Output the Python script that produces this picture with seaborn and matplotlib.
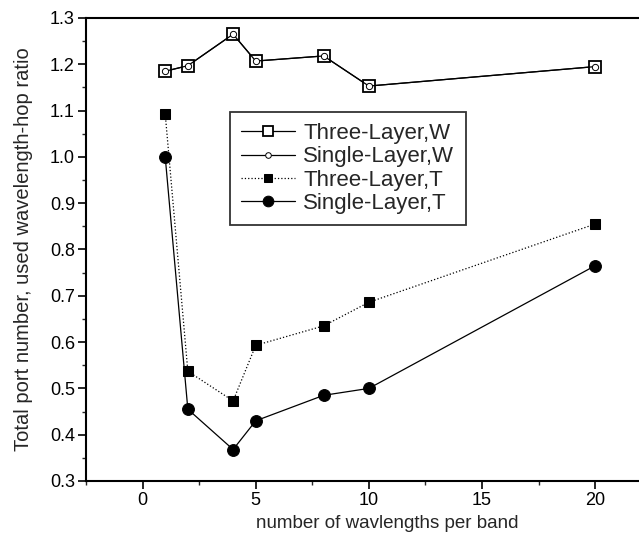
import numpy as np
import pandas as pd
from matplotlib import pyplot as plt
from matplotlib.ticker import MultipleLocator
import seaborn as sns


# wavelengths per band
wavelengths = [1, 2, 4, 5, 8, 10, 20]

# ratios
three_layer_w = [1.185, 1.197, 1.265, 1.207, 1.218, 1.153, 1.195]
single_layer_w = [1.185, 1.197, 1.265, 1.207, 1.218, 1.153, 1.195]
three_layer_t = [1.093, 0.537, 0.473, 0.593, 0.635, 0.686, 0.855]
single_layer_t = [1.000, 0.455, 0.368, 0.430, 0.485, 0.500, 0.765]

labels = ['Three-Layer,W', 'Single-Layer,W', 'Three-Layer,T', 'Single-Layer,T']

sns.set_style('ticks')
plt.rcParams['font.family'] = ['Liberation Sans', 'DejaVu Sans']

fig = plt.figure(figsize=(6.39, 5.37), dpi=100)
# the right end of the axes runs past the edge of the picture
ax = fig.add_axes([0.1346, 0.1043, 0.9420, 0.8622])

"""One call per series so each can keep its own marker and line style"""
sns.lineplot(x=wavelengths, y=three_layer_w, ax=ax, label=labels[0],
             color='black', linestyle='-', linewidth=0.9,
             marker='s', markersize=8.5, markerfacecolor='white',
             markeredgecolor='black', markeredgewidth=1.3)
sns.lineplot(x=wavelengths, y=single_layer_w, ax=ax, label=labels[1],
             color='black', linestyle='-', linewidth=0.9,
             marker='o', markersize=4.5, markerfacecolor='white',
             markeredgecolor='black', markeredgewidth=0.7)
sns.lineplot(x=wavelengths, y=three_layer_t, ax=ax, label=labels[2],
             color='black', linestyle=':', linewidth=0.9,
             marker='s', markersize=7, markerfacecolor='black',
             markeredgecolor='black')
sns.lineplot(x=wavelengths, y=single_layer_t, ax=ax, label=labels[3],
             color='black', linestyle='-', linewidth=0.9,
             marker='o', markersize=8.5, markerfacecolor='black',
             markeredgecolor='black')

ax.set_xlim(-2.5, 24.1)
ax.set_ylim(0.3, 1.3)
ax.xaxis.set_major_locator(MultipleLocator(5))
ax.xaxis.set_minor_locator(MultipleLocator(2.5))
ax.yaxis.set_major_locator(MultipleLocator(0.1))
ax.yaxis.set_minor_locator(MultipleLocator(0.05))
ax.yaxis.set_major_formatter(plt.FormatStrFormatter('%.1f'))

for side in ['left', 'bottom', 'top', 'right']:
    ax.spines[side].set_visible(True)
    ax.spines[side].set_linewidth(1.5)
    ax.spines[side].set_color('black')

ax.tick_params(which='major', length=6, width=1.2, labelsize=13, colors='black', pad=2)
ax.tick_params(which='minor', length=3, width=1.0)

ax.set_xlabel('number of wavlengths per band', fontsize=13.5, labelpad=4)
ax.set_ylabel('Total port number, used wavelength-hop ratio', fontsize=14.5, labelpad=12)

leg = ax.legend(loc='upper left', bbox_to_anchor=(0.2394, 0.797), borderaxespad=0,
                fontsize=16, frameon=True, fancybox=False, edgecolor='black',
                handlelength=2.4, handletextpad=0.4, labelspacing=0.1,
                borderpad=0.5, markerscale=0.9)
leg.get_frame().set_linewidth(1.3)

fig.savefig('out.png', dpi=100)
